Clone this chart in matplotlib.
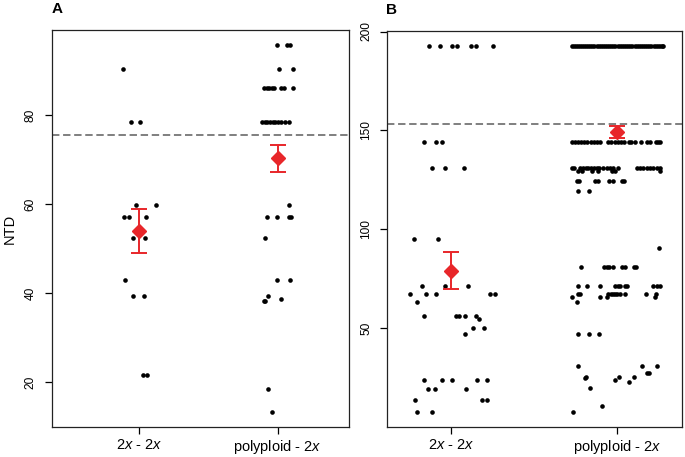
import matplotlib
matplotlib.use("Agg")
import matplotlib.pyplot as plt
import numpy as np

plt.rcParams['font.family'] = ['Liberation Sans', 'DejaVu Sans']
plt.rcParams['mathtext.fontset'] = 'custom'
plt.rcParams['mathtext.rm'] = 'Liberation Sans'
plt.rcParams['mathtext.it'] = 'Liberation Sans:italic'

categories = ["2$\\it{x}$ - 2$\\it{x}$", "polyploid - 2$\\it{x}$"]

# ---- Panel A: NTD values per level, with jitter offsets
a_g1_levels = [90.3, 78.5, 59.8, 57.1, 52.4, 43.0, 39.4, 21.6]
a_g1_jitter = [[-0.113], [-0.058, 0.007], [-0.022, 0.123], [-0.108, -0.070, 0.050],
               [-0.041, 0.045], [-0.101], [-0.041, 0.038], [0.027, 0.056]]
a_g2_levels = [95.7, 90.3, 86.0, 78.5, 59.8, 57.1, 52.4, 43.0, 39.4, 38.7, 38.1, 18.4, 13.2]
a_g2_jitter = [[-0.003, 0.069, 0.088], [0.009, 0.108],
               [-0.097, -0.081, -0.063, -0.045, -0.027, 0.026, 0.043, 0.108],
               [-0.113, -0.095, -0.077, -0.056, -0.037, -0.019, 0.002, 0.024, 0.049, 0.078],
               [0.079], [-0.075, -0.007, 0.079, 0.098], [-0.094], [-0.005, 0.087],
               [-0.072], [0.022], [-0.101, -0.092], [-0.068], [-0.039]]
a_means = [53.9, 70.3]
a_lo = [48.9, 67.3]
a_hi = [58.9, 73.3]
a_ref = 75.5
a_yticks = [20, 40, 60, 80]

# ---- Panel B
b_g1_levels = [192.9, 144.4, 131.2, 95.0, 71.5, 67.2, 63.3, 56.2, 54.5, 50.3, 47.2, 23.8, 19.3, 13.7, 7.5]
b_g1_jitter = [[-0.130, -0.066, 0.008, 0.038, 0.118, 0.149, 0.251],
               [-0.161, -0.090, -0.052],
               [-0.116, -0.034, 0.076],
               [-0.222, -0.080],
               [-0.176, -0.038, 0.100],
               [-0.248, -0.150, -0.090, 0.235, 0.266],
               [-0.206],
               [-0.161, 0.028, 0.048, 0.082, 0.152],
               [0.170],
               [0.134, 0.200],
               [0.086],
               [-0.164, -0.056, 0.006, 0.155, 0.215],
               [-0.138, -0.094, 0.090],
               [-0.215, 0.185, 0.218],
               [-0.203, -0.116]]
b_g2_levels = [192.9, 144.4, 131.1, 129.4, 124.3, 119.3, 90.4, 80.8, 71.5, 67.2, 66.0, 63.3,
               47.2, 31.1, 27.2, 25.3, 24.7, 23.8, 22.8, 19.8, 10.8, 7.8]
b_g2_jitter = [[-0.274, -0.262, -0.250, -0.238, -0.226, -0.214, -0.200, -0.188, -0.176, -0.162,
                -0.150, -0.138, -0.124, -0.112, -0.100, -0.088, -0.074, -0.062, -0.050, -0.036,
                -0.024, -0.012, 0.002, 0.014, 0.028, 0.040, 0.052, 0.066, 0.078, 0.090,
                0.104, 0.116, 0.128, 0.142, 0.154, 0.166, 0.180, 0.192, 0.204, 0.218,
                0.230, 0.244, 0.256, 0.270, 0.277],
               [-0.272, -0.254, -0.236, -0.218, -0.200, -0.182, -0.158, -0.140, -0.122, -0.104,
                -0.056, -0.038, -0.017, 0.004, 0.022, 0.040, 0.070, 0.082, 0.107, 0.143,
                0.179, 0.197, 0.231, 0.245, 0.257],
               [-0.274, -0.259, -0.225, -0.205, -0.191, -0.175, -0.159, -0.139, -0.124, -0.108,
                -0.084, -0.064, -0.044, -0.024, 0.006, 0.117, 0.136, 0.156, 0.177, 0.196,
                0.216, 0.236, 0.257],
               [-0.235, -0.214, -0.154, -0.114, -0.034, -0.014, 0.257],
               [-0.244, -0.230, -0.134, -0.118, -0.048, -0.028, 0.026, 0.042],
               [-0.238, -0.170],
               [0.253],
               [-0.218, -0.078, -0.064, -0.048, -0.024, 0.030, 0.046, 0.100, 0.111],
               [-0.235, -0.184, -0.104, -0.014, 0.002, 0.016, 0.046, 0.057, 0.216, 0.237, 0.257],
               [-0.238, -0.224, -0.054, -0.040, -0.028, -0.014, 0.000, 0.016, 0.046, 0.171, 0.231],
               [-0.274, -0.104, -0.064, 0.227],
               [-0.241],
               [-0.238, -0.168, -0.110],
               [-0.235, 0.147, 0.241],
               [0.177, 0.191],
               [-0.188, 0.008, 0.102],
               [-0.194],
               [-0.012],
               [0.069],
               [-0.166],
               [-0.090],
               [-0.266]]
b_means = [79.1, 149.3]
b_lo = [69.7, 146.4]
b_hi = [88.4, 152.0]
b_ref = 153.5
b_yticks = [50, 100, 150, 200]

RED = '#E8262A'


def expand(levels, jitter, center):
    xs, ys = [], []
    for lv, js in zip(levels, jitter):
        for j in js:
            xs.append(center + j)
            ys.append(lv)
    return xs, ys


def draw(ax, g1, g2, means, lo, hi, ref, yticks, xlim, ylim, label):
    for (lv, js), c in zip([g1, g2], [1, 2]):
        xs, ys = expand(lv, js, c)
        ax.scatter(xs, ys, s=11, color='black', linewidths=0, zorder=3)
    ax.axhline(ref, color='#7f7f7f', lw=1.4, dashes=(3.8, 1.9), zorder=2)
    pos = [1, 2]
    m = np.array(means)
    yerr = np.vstack([m - np.array(lo), np.array(hi) - m])
    ax.errorbar(pos, means, yerr=yerr, fmt='D', color=RED, ms=7.5, mec=RED,
                ecolor=RED, elinewidth=1.4, capsize=6, capthick=1.4, zorder=4)
    ax.set_xlim(*xlim)
    ax.set_ylim(*ylim)
    ax.set_xticks(pos)
    ax.set_xticklabels(categories, fontsize=10.5)
    ax.set_yticks(yticks)
    ax.set_yticklabels([str(t) for t in yticks], fontsize=8.6, rotation=90, va='center')
    ax.tick_params(axis='y', length=5, width=0.9, pad=6)
    ax.tick_params(axis='x', length=5, width=0.9, pad=3)
    for sp in ax.spines.values():
        sp.set_linewidth(0.9)
        sp.set_color('#222222')
    ax.text(0.0, 1.0, label, transform=ax.transAxes, fontsize=11, fontweight='bold',
            ha='left', va='bottom')


fig = plt.figure(figsize=(6.85, 4.57), dpi=100)
axA = fig.add_axes([0.0759, 0.0656, 0.510 - 0.0759, 0.9344 - 0.0656])
axB = fig.add_axes([0.5654, 0.0656, 0.9952 - 0.5654, 0.9328 - 0.0656])

draw(axA, (a_g1_levels, a_g1_jitter), (a_g2_levels, a_g2_jitter), a_means, a_lo, a_hi,
     a_ref, a_yticks, (0.373, 2.516), (9.9, 99.1), 'A')
draw(axB, (b_g1_levels, b_g1_jitter), (b_g2_levels, b_g2_jitter), b_means, b_lo, b_hi,
     b_ref, b_yticks, (0.617, 2.387), (0.1, 200.4), 'B')

axA.set_ylabel('NTD', fontsize=10.5, labelpad=6)
axA.texts[0].set_position((0.0, 1.035))
axB.texts[0].set_position((-0.005, 1.035))

fig.savefig('out.png', dpi=100)
